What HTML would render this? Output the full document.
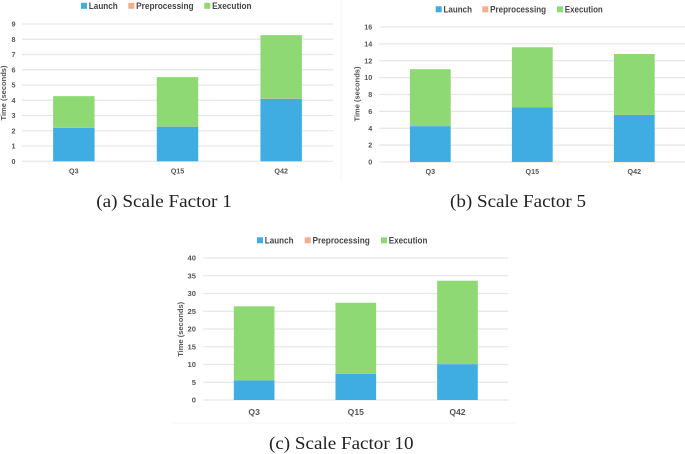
<!DOCTYPE html>
<html lang="en">
<head>
<meta charset="utf-8">
<title>Scale Factor Charts</title>
<style>
html,body{margin:0;padding:0;background:#fff;width:685px;height:454px;overflow:hidden}
svg{display:block;position:absolute;left:0;top:0}
text{font-family:"Liberation Sans",sans-serif}
.tick{font-weight:700;fill:#555}
.legend{font-weight:700;fill:#454545;font-size:9.3px}
.caption{font-family:"Liberation Serif",serif;font-size:18px;fill:#222}
</style>
</head>
<body>
<svg id="figure" width="685" height="454" viewBox="0 0 685 454" xmlns="http://www.w3.org/2000/svg">
<defs><filter id="soft" x="-5%" y="-5%" width="110%" height="110%"><feGaussianBlur stdDeviation="0.3"/></filter></defs>
<g id="root" filter="url(#soft)">
<line x1="341" y1="0" x2="341" y2="182" stroke="#f3f5f5" stroke-width="1"/>
<line x1="172" y1="423" x2="515" y2="423" stroke="#f5f6f6" stroke-width="1"/>
</g>
</svg>
<script>
const categories = ['Q3', 'Q15', 'Q42'];
const seriesNames = ['Launch', 'Preprocessing', 'Execution'];

const ticksA = [0, 1, 2, 3, 4, 5, 6, 7, 8, 9];
const launchA = [2.2, 2.27, 4.1];
const preprocessingA = [0.01, 0.01, 0.01];
const executionA = [2.06, 3.24, 4.16];

const ticksB = [0, 2, 4, 6, 8, 10, 12, 14, 16];
const launchB = [4.25, 6.5, 5.6];
const preprocessingB = [0.01, 0.01, 0.01];
const executionB = [6.74, 7.09, 7.19];

const ticksC = [0, 5, 10, 15, 20, 25, 30, 35, 40];
const launchC = [5.5, 7.4, 10.1];
const preprocessingC = [0.02, 0.02, 0.02];
const executionC = [20.88, 19.98, 23.48];

const colors = ['#41ade2', '#f4ae8a', '#8fd975'];
const NS = 'http://www.w3.org/2000/svg';
const root = document.getElementById('root');

function make(tag, attrs, parent, text) {
  const el = document.createElementNS(NS, tag);
  for (const k in attrs) el.setAttribute(k, attrs[k]);
  if (text !== undefined) el.textContent = text;
  parent.appendChild(el);
  return el;
}

function drawChart(id, ticks, launch, pre, exec, L) {
  const g = make('g', {}, root);
  
  

  const maxTick = ticks[ticks.length - 1];
  const yScale = v => L.y0 - (v / maxTick) * (L.y0 - L.yTop);
  const band = (L.x1 - L.x0) / categories.length;
  const xCenter = i => L.x0 + band * (i + 0.5);
  const barW = band * 0.4;

  ticks.forEach(t => {
    const y = yScale(t);
    const line = make('line', {x1: L.x0, x2: L.x1, y1: y, y2: y, stroke: '#e6e6e6', 'stroke-width': 1.2}, g);
    
    
    const label = make('text', {x: L.tickX, y: y + L.tickFont * 0.36, 'text-anchor': 'end', class: 'tick', 'font-size': L.tickFont}, g, String(t));
    
    
  });

  const stacks = [launch, pre, exec];
  categories.forEach((c, i) => {
    let base = 0;
    stacks.forEach((values, s) => {
      const top = base + values[i];
      const rect = make('rect', {
        x: xCenter(i) - barW / 2,
        y: yScale(top),
        width: barW,
        height: yScale(base) - yScale(top),
        fill: colors[s]
      }, g);
      
      
      base = top;
    });
    const label = make('text', {x: xCenter(i), y: L.catY, 'text-anchor': 'middle', class: 'tick', 'font-size': L.catFont}, g, c);
    
    
  });

  const title = make('text', {
    transform: 'translate(' + L.titleX + ',' + L.titleY + ') rotate(-90)',
    'text-anchor': 'middle', class: 'tick', 'font-size': L.titleFont,
    textLength: 55, lengthAdjust: 'spacingAndGlyphs'
  }, g, 'Time (seconds)');
  
  

  seriesNames.forEach((name, s) => {
    const swatch = make('rect', {x: L.legendSwatch[s], y: L.legendY - 2.7, width: 6, height: 6, fill: colors[s]}, g);
    
    
    const text = make('text', {
      x: L.legendSwatch[s] + 7.8, y: L.legendY + 3.3, class: 'legend',
      textLength: L.legendWidth[s], lengthAdjust: 'spacingAndGlyphs'
    }, g, name);
    
    
  });

  const caption = make('text', {x: L.capX, y: L.capY, class: 'caption', textLength: L.capW, lengthAdjust: 'spacingAndGlyphs'}, g, L.caption);
  
  
}

drawChart('a', ticksA, launchA, preprocessingA, executionA, {
  x0: 22, x1: 333, y0: 161.3, yTop: 24,
  tickX: 15.5, tickFont: 7.2, catY: 173.7, catFont: 7.2,
  titleX: 6, titleY: 93, titleFont: 7.6,
  legendY: 5.5, legendSwatch: [81, 128.3, 204.3], legendWidth: [29, 57.5, 39.5],
  caption: '(a) Scale Factor 1', capX: 96.3, capY: 207, capW: 135.5
});
drawChart('b', ticksB, launchB, preprocessingB, executionB, {
  x0: 379.3, x1: 685.3, y0: 162, yTop: 27,
  tickX: 372.3, tickFont: 7.2, catY: 174, catFont: 7.2,
  titleX: 359.5, titleY: 94, titleFont: 7.6,
  legendY: 9, legendSwatch: [435.7, 482.3, 557], legendWidth: [28.5, 56, 38],
  caption: '(b) Scale Factor 5', capX: 450, capY: 207, capW: 136
});
drawChart('c', ticksC, launchC, preprocessingC, executionC, {
  x0: 203.3, x1: 508.3, y0: 400, yTop: 258,
  tickX: 196, tickFont: 7.6, catY: 415.2, catFont: 8.6,
  titleX: 183, titleY: 329.3, titleFont: 7.6,
  legendY: 240, legendSwatch: [257, 304.7, 381], legendWidth: [28.7, 57.3, 38.6],
  caption: '(c) Scale Factor 10', capX: 269, capY: 449, capW: 144.5
});
</script>
</body>
</html>
